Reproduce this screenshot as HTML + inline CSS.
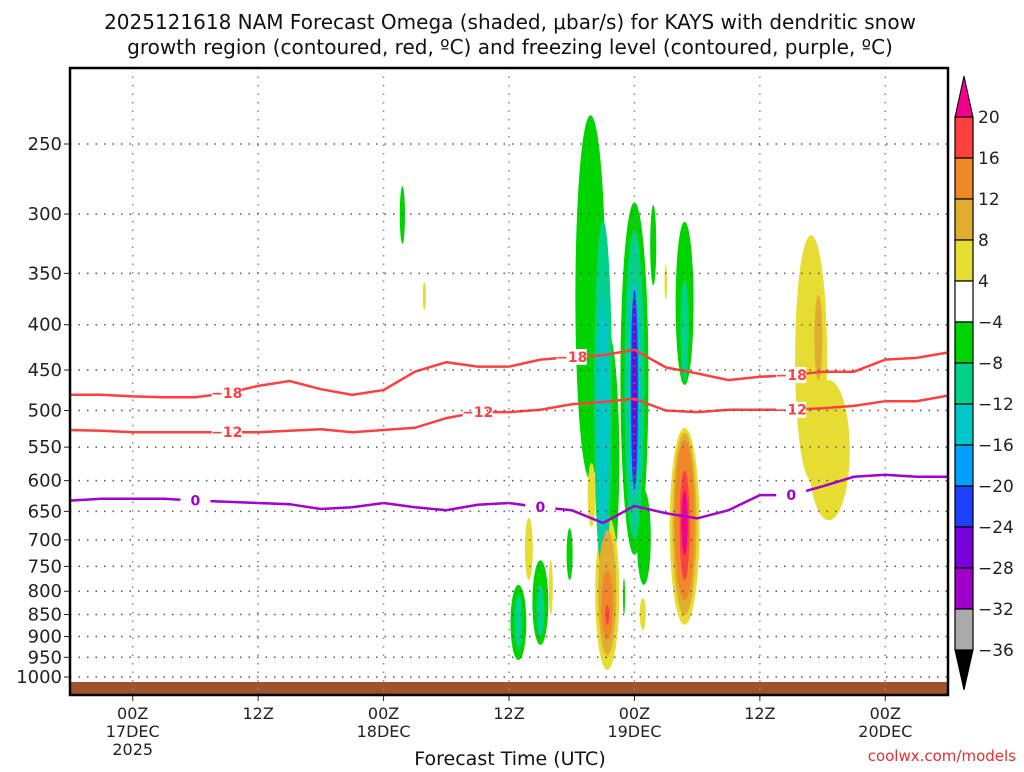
<!DOCTYPE html>
<html><head><meta charset="utf-8">
<style>
body{margin:0;background:#fff;width:1024px;height:768px;overflow:hidden;font-family:"DejaVu Sans","Liberation Sans",sans-serif}
svg text{font-family:"DejaVu Sans","Liberation Sans",sans-serif}
</style></head>
<body>
<svg id="chart" width="1024" height="768" xmlns="http://www.w3.org/2000/svg">
<text x="510" y="29" font-size="20" text-anchor="middle" fill="#111">2025121618 NAM Forecast Omega (shaded, μbar/s) for KAYS with dendritic snow</text>
<text x="510" y="54" font-size="20" text-anchor="middle" fill="#111">growth region (contoured, red, ºC) and freezing level (contoured, purple, ºC)</text>
<g id="plot"></g>
<g id="cbar"></g>
<text x="510" y="765" font-size="19" text-anchor="middle" fill="#111">Forecast Time (UTC)</text>
<text x="1016" y="761" font-size="15" text-anchor="end" fill="#e03030">coolwx.com/models</text>
</svg>
<script>
const hours3 = [0,3,6,9,12,15,18,21,24,27,30,33,36,39,42,45,48,51,54,57,60,63,66,69,72,75,78,81,84];
const isoM18 = [480,480,482,483,483,478,469,463,473,480,474,452,441,446,446,438,435,433,427,447,454,462,458,456,452,452,438,436,430];
const isoM12 = [526,527,529,529,529,529,529,527,525,529,526,523,510,502,502,499,492,489,485,500,502,499,499,499,497,494,488,488,481];
const frzLvl = [632,629,629,629,632,634,636,638,646,643,636,643,648,639,636,643,648,670,641,653,662,648,623,623,609,594,591,594,594];
const pTicks = [250,300,350,400,450,500,550,600,650,700,750,800,850,900,950,1000];
const xTickHours = [6,18,30,42,54,66,78];
const xTickLabels = [["00Z","17DEC","2025"],["12Z"],["00Z","18DEC"],["12Z"],["00Z","19DEC"],["12Z"],["00Z","20DEC"]];
// omega cells: [hour, pTop, pBottom, halfWidthHours, value]
const blobT = [31.8,33.9,49.8,51.4,51.0,51.0,54.0,54.9,54.0,54.0,54.0,54.0,55.8,57.0,58.8,58.8,58.8,58.8,58.8,58.8,58.8,51.4,51.4,51.4,51.4,49.9,47.8,43.9,42.9,42.9,45.0,45.0,46.0,53.0,54.8,70.9,72.6,71.6];
const blobTop = [279,358,232,406,305,370,291,615,313,356,365,375,293,342,306,356,523,530,540,584,615,656,682,757,829,573,679,661,787,808,738,787,738,773,814,317,462,370];
const blobBot = [324,385,599,798,767,700,728,787,700,631,615,599,361,375,468,462,873,851,819,777,728,982,945,908,873,677,777,777,957,930,920,900,851,851,885,599,665,462];
const blobW = [0.25,0.15,1.45,1.15,0.86,0.55,1.34,0.67,0.95,0.57,0.35,0.2,0.29,0.12,0.86,0.38,1.43,1.15,0.95,0.48,0.29,1.15,0.86,0.57,0.19,0.38,0.29,0.38,0.76,0.38,0.76,0.38,0.19,0.1,0.29,1.53,2.0,0.38];
const blobV = [-6,6,-6,-6,-10,-14,-6,-6,-10,-14,-22,-26,-6,6,-6,-10,6,10,14,18,22,6,10,14,18,6,-6,6,-6,-10,-6,-10,6,-6,6,6,6,10];
const cbLabels = ["20","16","12","8","4","−4","−8","−12","−16","−20","−24","−28","−32","−36"];
const cbColors = ["#ff4040","#f08828","#e2ac30","#e6dc32","#ffffff","#00d400","#00d28a","#00c8c8","#00a0ff","#2040ff","#7800d8","#a000c8","#aaaaaa"];

const L=70,R=948,T=68,B=695;
const X=h=>L+h*(R-L)/84;
const Y=p=>144+384.5*Math.log(p/250);
const NS="http://www.w3.org/2000/svg";
function mk(tag,attrs,parent){const e=document.createElementNS(NS,tag);for(const k in attrs)e.setAttribute(k,attrs[k]);parent.appendChild(e);return e;}
function col(v){if(v>=20)return"#f0008c";if(v>=16)return"#ff4040";if(v>=12)return"#f08828";if(v>=8)return"#e2ac30";if(v>=4)return"#e6dc32";
 if(v<=-28)return"#a000c8";if(v<=-24)return"#7800d8";if(v<=-20)return"#2040ff";if(v<=-16)return"#00a0ff";if(v<=-12)return"#00c8c8";if(v<=-8)return"#00d28a";return"#00d400";}
const plot=document.getElementById('plot');
const clip=mk('clipPath',{id:'pc'},plot);mk('rect',{x:L,y:T,width:R-L,height:B-T},clip);
const g=mk('g',{'clip-path':'url(#pc)'},plot);
// blobs sorted by magnitude
const idx=blobV.map((v,i)=>i).sort((a,b)=>Math.abs(blobV[a])-Math.abs(blobV[b]));
idx.forEach(i=>{
 const cx=X(blobT[i]),y1=Y(blobTop[i]),y2=Y(blobBot[i]);
 const e=mk('ellipse',{cx:cx,cy:(y1+y2)/2,rx:blobW[i]*(R-L)/84,ry:(y2-y1)/2,fill:col(blobV[i])},g);
 
 
});
// ground
const gr=mk('rect',{x:L,y:682,width:R-L,height:B-682,fill:'#a0522d'},g);


// grid
pTicks.forEach(p=>{
 const y=Y(p);
 const ln=mk('line',{x1:L,x2:R,y1:y,y2:y,stroke:'#555','stroke-width':1.5,'stroke-dasharray':'1.5 7'},plot);
 
 
 mk('line',{x1:L-6,x2:L,y1:y,y2:y,stroke:'#222'},plot);
 const t=mk('text',{x:L-8,y:y+6,'font-size':18,'text-anchor':'end',fill:'#222'},plot);t.textContent=p;
 
 
});
xTickHours.forEach((h,i)=>{
 const x=X(h);
 const ln=mk('line',{x1:x,x2:x,y1:T,y2:B,stroke:'#888','stroke-width':1.5,'stroke-dasharray':'1.5 7'},plot);
 
 
 mk('line',{x1:x,x2:x,y1:B,y2:B+6,stroke:'#222'},plot);
 xTickLabels[i].forEach((s,j)=>{
  const t=mk('text',{x:x,y:719+j*18,'font-size':16,'text-anchor':'middle',fill:'#222'},plot);t.textContent=s;
  
  
 });
});
// contours
function contour(vals,color,name,labelHours,label){
 const d=hours3.map((h,i)=>(i?'L':'M')+X(h).toFixed(1)+','+Y(vals[i]).toFixed(1)).join('');
 const p=mk('path',{d:d,fill:'none',stroke:color,'stroke-width':2.5},g);
 
 
 labelHours.forEach(h=>{
  const k=Math.round(h/3);const x=X(h),y=Y(vals[k]);
  mk('rect',{x:x-15,y:y-8,width:30,height:16,fill:'#fff'},g);
  const t=mk('text',{x:x,y:y+5,'font-size':14,'font-weight':'bold','text-anchor':'middle',fill:color},g);t.textContent=label;
  
  
 });
}
contour(isoM18,'#ff4040','isotherm-minus18',[15,48,69],'−18');
contour(isoM12,'#ff4040','isotherm-minus12',[15,39,69],'−12');
contour(frzLvl,'#a000d0','freezing-level',[12,45,69],'0');
mk('rect',{x:L,y:T,width:R-L,height:B-T,fill:'none',stroke:'#000','stroke-width':2.5},plot);
// colorbar
const cb=document.getElementById('cbar');
const cx0=955,cw=18,ct=117,ch=41;
mk('polygon',{points:`${cx0},${ct} ${cx0+cw},${ct} ${cx0+cw/2},76`,fill:'#f0008c',stroke:'#000'},cb);
cbColors.forEach((c,i)=>{
 const r=mk('rect',{x:cx0,y:ct+i*ch,width:cw,height:ch,fill:c,stroke:'#000','stroke-width':1.2},cb);
 
 
});
mk('polygon',{points:`${cx0},${ct+13*ch} ${cx0+cw},${ct+13*ch} ${cx0+cw/2},690`,fill:'#000',stroke:'#000'},cb);
cbLabels.forEach((s,i)=>{
 const t=mk('text',{x:978,y:ct+i*ch+6,'font-size':17,fill:'#222'},cb);t.textContent=s;
 
 
});
</script>
</body></html>
